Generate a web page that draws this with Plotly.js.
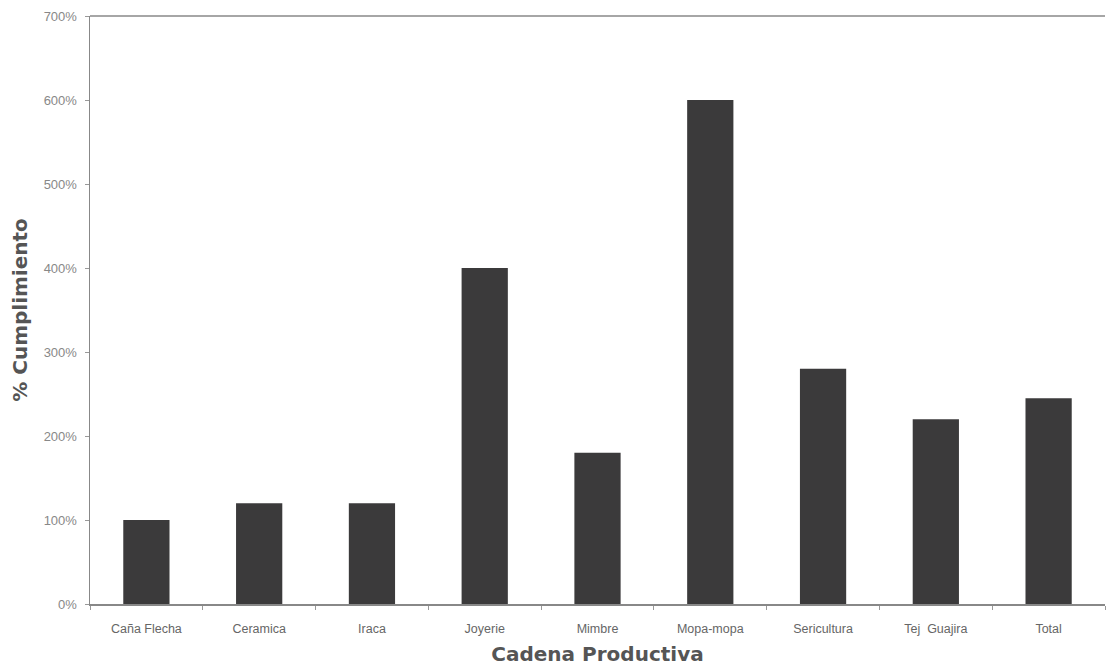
<!DOCTYPE html>
<html>
<head>
<meta charset="utf-8">
<script src="https://cdn.plot.ly/plotly-3.0.1.min.js"></script>
<style>html,body{margin:0;padding:0;background:#fff;}#chart{width:1108px;height:669px;}</style>
</head>
<body>
<div id="chart"></div>
<script>
const categories = ["Caña Flecha", "Ceramica", "Iraca", "Joyerie", "Mimbre", "Mopa-mopa", "Sericultura", "Tej  Guajira", "Total"];
const cumplimiento = [1.00, 1.20, 1.20, 4.00, 1.80, 6.00, 2.80, 2.20, 2.45];
const yTicks = [0, 1, 2, 3, 4, 5, 6, 7];
const yTickLabels = ["0%", "100%", "200%", "300%", "400%", "500%", "600%", "700%"];

const trace = {
  type: "bar",
  x: categories,
  y: cumplimiento,
  marker: {color: "#3b3a3b", line: {width: 0}},
  hoverinfo: "x+y"
};

const titleFont = {size: 20, color: "#555", family: "DejaVu Sans, Verdana, sans-serif", weight: "bold"};

const layout = {
  width: 1108, height: 669,
  margin: {l: 90, r: 3, t: 16, b: 65},
  paper_bgcolor: "#fff", plot_bgcolor: "#fff",
  bargap: 0.59,
  showlegend: false,
  font: {family: "Liberation Sans, Arial, sans-serif", color: "#777"},
  xaxis: {
    type: "category",
    tickson: "boundaries",
    ticks: "outside", ticklen: 4, tickcolor: "#999",
    showline: true, linecolor: "#888", linewidth: 1.5,
    showgrid: false,
    ticklabelstandoff: 12,
    tickfont: {size: 12.5, color: "#666"},
    title: {text: "Cadena Productiva", font: titleFont, standoff: 12}
  },
  yaxis: {
    range: [0, 7],
    tickvals: yTicks, ticktext: yTickLabels,
    ticks: "outside", ticklen: 4, tickcolor: "#999",
    showline: true, linecolor: "#888", linewidth: 1.5,
    showgrid: false, zeroline: false,
    ticklabelstandoff: 5,
    tickfont: {size: 13, color: "#888"},
    title: {text: "% Cumplimiento", font: titleFont, standoff: 10}
  },
  shapes: [{type: "line", xref: "paper", yref: "paper", x0: 0, x1: 1, y0: 1, y1: 1, line: {color: "#888", width: 1.5}}]
};

Plotly.newPlot("chart", [trace], layout, {displayModeBar: false, staticPlot: true});
</script>
</body>
</html>
